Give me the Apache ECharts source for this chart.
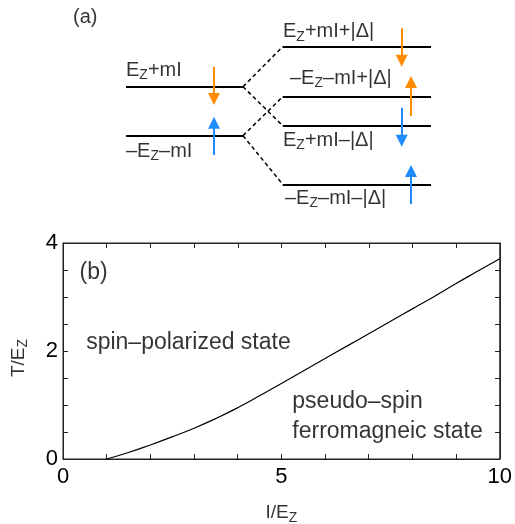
<!DOCTYPE html>
<html>
<head>
<meta charset="utf-8">
<script src="https://cdn.jsdelivr.net/npm/echarts@6/dist/echarts.min.js"></script>
<style>
    html, body { margin: 0; padding: 0; background: #fff; }
    #chart { width: 515px; height: 524px; }
</style>
</head>
<body>
<div id="chart"></div>
<script>
// panel (b): phase boundary T/Ez vs I/Ez
var curveX = [1, 1.5, 2, 2.5, 3, 3.5, 4, 4.5, 5, 5.5, 6, 6.5, 7, 7.5, 8, 8.5, 9, 9.5, 10];
var curveY = [0, 0.12, 0.26, 0.41, 0.57, 0.75, 0.95, 1.17, 1.4, 1.63, 1.86, 2.09, 2.32, 2.55, 2.78, 3.01, 3.25, 3.48, 3.71];
var xTickLabels = ['0', '5', '10'];
var yTickLabels = ['0', '2', '4'];
var regionText = ['(b)', 'spin–polarized state', 'pseudo–spin', 'ferromagneic state'];
var regionX = [0.38, 0.53, 5.25, 5.25];
var regionY = [3.46, 2.15, 1.06, 0.51];
var axisTitles = ['I/E{s|Z}', 'T/E{s|Z}'];
var axisTitleX = [5, -1.02];
var axisTitleY = [-1.0, 1.87];

// panel (a): level scheme (arbitrary energy units)
var leftLevels = [2.33, -2.57];
var rightLevels = [6.33, 1.33, -1.57, -7.43];
var leftSpan = [6.6, 18.3];
var rightSpan = [22.27, 37.1];
var connectors = [[0, 0], [0, 2], [1, 1], [1, 3]]; // [left level, right level]
var arrowX = [15.4, 15.4, 34.17, 35.1, 34.17, 35.1];
var arrowFrom = [4.33, -4.5, 8.17, -0.6, 0.23, -9.4];
var arrowTo = [0.5, -0.67, 4.33, 3.4, -3.67, -5.5];
var arrowGroup = ['a', 'b', 'a', 'a', 'b', 'b'];
var levelText = ['(a)', 'E{s|Z}+mI', '–E{s|Z}–mI', 'E{s|Z}+mI+|Δ|', '–E{s|Z}–mI+|Δ|', 'E{s|Z}+mI–|Δ|', '–E{s|Z}–mI–|Δ|'];
var levelTextX = [1.3, 6.6, 6.6, 22.3, 23, 22.3, 22.5];
var levelTextY = [9.25, 4.0, -4.1, 7.83, 3.17, -3.0, -8.83];

var groupColor = { a: '#ff8c00', b: '#1e8cff' };
var font = 'Liberation Sans, Arial, sans-serif';
var subRich = { s: { fontSize: 14, fontFamily: font, padding: [10, 0, 0, 0] } };

var levelLines = [];
leftLevels.forEach(function (y) {
    levelLines.push({ coords: [[leftSpan[0], y], [leftSpan[1], y]] });
});
rightLevels.forEach(function (y) {
    levelLines.push({ coords: [[rightSpan[0], y], [rightSpan[1], y]] });
});
var dashLines = connectors.map(function (c) {
    return { coords: [[leftSpan[1], leftLevels[c[0]]], [rightSpan[0], rightLevels[c[1]]]] };
});
var headHalf = 0.6;
var arrowLines = arrowX.map(function (x, i) {
    var dir = arrowTo[i] > arrowFrom[i] ? 1 : -1;
    return {
        coords: [[x, arrowFrom[i]], [x, arrowTo[i] - dir * headHalf]],
        lineStyle: { color: groupColor[arrowGroup[i]] }
    };
});
var levelLabels = levelText.map(function (t, i) {
    return { value: [levelTextX[i], levelTextY[i]], label: { formatter: t } };
});
var regionLabels = regionText.map(function (t, i) {
    return { value: [regionX[i], regionY[i]], label: { formatter: t } };
});
var titleLabels = axisTitles.map(function (t, i) {
    return { value: [axisTitleX[i], axisTitleY[i]], label: { formatter: t, rotate: i === 1 ? 90 : 0 } };
});

var axisColor = '#222';
function tickAxis(extra, split) {
    var base = {
        type: 'value',
        axisLine: { show: true, lineStyle: { color: axisColor, width: 1 } },
        axisTick: { show: true, inside: true, length: 5, lineStyle: { color: axisColor } },
        minorTick: { show: true, splitNumber: split, length: 5, lineStyle: { color: axisColor } },
        splitLine: { show: false },
        axisLabel: { show: false }
    };
    return Object.assign(base, extra);
}

var myChart = echarts.init(document.getElementById('chart'));
var option = {
    animation: false,
    backgroundColor: '#fff',
    grid: [
        { left: 63, top: 243, width: 437, height: 216, show: true, borderColor: axisColor, borderWidth: 1 },
        { left: 60, top: 10, width: 450, height: 200 },
        { left: 63, top: 243, width: 437, height: 216 } // mirror axes on top and right
    ],
    xAxis: [
        tickAxis({
            gridIndex: 0, position: 'bottom', min: 0, max: 10, interval: 5,
            axisLabel: {
                show: true, margin: 7, fontSize: 22, color: '#000', fontFamily: font,
                formatter: function (v) { return xTickLabels[v / 5]; }
            }
        }, 5),
        { type: 'value', gridIndex: 1, min: 0, max: 45, show: false },
        // same tick spacing as the bottom axis, range kept off zero so it stays on top
        tickAxis({ gridIndex: 2, position: 'top', min: 10, max: 20, interval: 5 }, 5)
    ],
    yAxis: [
        tickAxis({
            gridIndex: 0, position: 'left', min: 0, max: 4, interval: 2,
            axisLabel: {
                show: true, margin: 5, fontSize: 22, color: '#000', fontFamily: font,
                formatter: function (v) { return yTickLabels[v / 2]; }
            }
        }, 4),
        { type: 'value', gridIndex: 1, min: -10, max: 10, show: false },
        tickAxis({ gridIndex: 2, position: 'right', min: 10, max: 14, interval: 2 }, 4)
    ],
    series: [
        {
            name: 'boundary',
            type: 'line',
            xAxisIndex: 0,
            yAxisIndex: 0,
            showSymbol: false,
            smooth: true,
            lineStyle: { color: '#000', width: 1.2 },
            data: curveX.map(function (x, i) { return [x, curveY[i]]; })
        },
        {
            name: 'regions',
            type: 'scatter',
            xAxisIndex: 0,
            yAxisIndex: 0,
            symbolSize: 0,
            clip: false,
            label: {
                show: true, position: 'inside', align: 'left', verticalAlign: 'middle',
                fontSize: 23, color: '#000', fontFamily: font
            },
            data: regionLabels
        },
        {
            name: 'axisTitles',
            type: 'scatter',
            xAxisIndex: 0,
            yAxisIndex: 0,
            symbolSize: 0,
            clip: false,
            label: {
                show: true, position: 'inside', align: 'center', verticalAlign: 'middle',
                fontSize: 19, color: '#000', fontFamily: font, rich: subRich
            },
            data: titleLabels
        },
        {
            name: 'levels',
            type: 'lines',
            coordinateSystem: 'cartesian2d',
            xAxisIndex: 1,
            yAxisIndex: 1,
            symbol: 'none',
            lineStyle: { color: '#000', width: 2, opacity: 1 },
            data: levelLines
        },
        {
            name: 'connectors',
            type: 'lines',
            coordinateSystem: 'cartesian2d',
            xAxisIndex: 1,
            yAxisIndex: 1,
            symbol: 'none',
            lineStyle: { color: '#000', width: 1.5, type: [4, 3], opacity: 1 },
            data: dashLines
        },
        {
            name: 'spins',
            type: 'lines',
            coordinateSystem: 'cartesian2d',
            xAxisIndex: 1,
            yAxisIndex: 1,
            symbol: ['none', 'triangle'],
            symbolSize: 12,
            lineStyle: { width: 2, opacity: 1 },
            data: arrowLines
        },
        {
            name: 'levelLabels',
            type: 'scatter',
            xAxisIndex: 1,
            yAxisIndex: 1,
            symbolSize: 0,
            clip: false,
            label: {
                show: true, position: 'inside', align: 'left', verticalAlign: 'middle',
                fontSize: 20, color: '#000', fontFamily: font, rich: subRich
            },
            data: levelLabels
        }
    ]
};
myChart.setOption(option);
</script>
</body>
</html>
